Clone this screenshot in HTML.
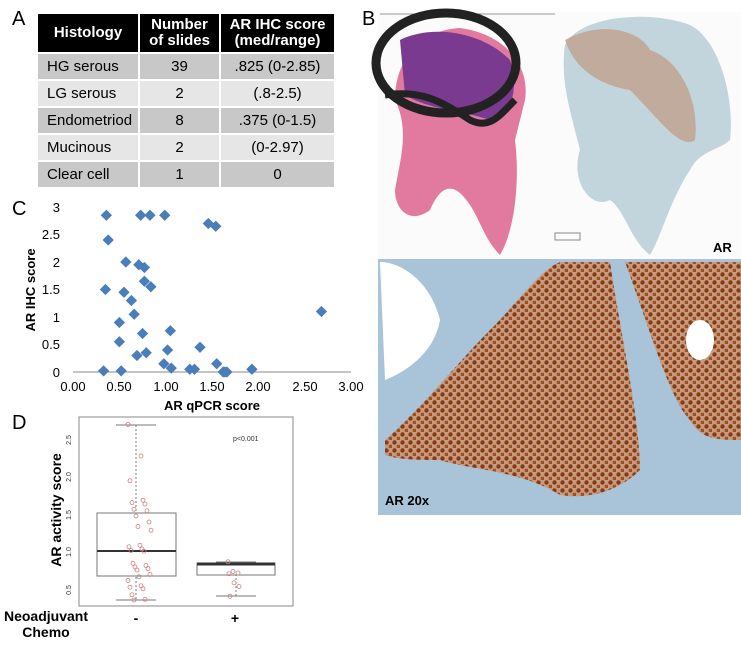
<!DOCTYPE html>
<html><head><meta charset="utf-8"><style>
body{margin:0;background:#fff;width:741px;height:647px;position:relative;overflow:hidden;font-family:"Liberation Sans",Arial,sans-serif}
.a{position:absolute}
table{position:absolute;left:36px;top:12px;border-collapse:collapse;font-size:15px}
td,th{border:2px solid #fff;text-align:center;padding:0}
th{background:#000;color:#fff;font-weight:bold;height:38px;line-height:16px}
td{height:25px}
tr.d td{background:#c8c8c8}tr.l td{background:#e6e6e6}
td:first-child{text-align:left;padding-left:9px}
</style></head><body>
<div class="a" style="left:12px;top:8px;font-size:20px">A</div>
<table>
<tr><th style="width:100px">Histology</th><th style="width:79px">Number<br>of slides</th><th style="width:113px">AR IHC score<br>(med/range)</th></tr>
<tr class="d"><td>HG serous</td><td>39</td><td>.825 (0-2.85)</td></tr>
<tr class="l"><td>LG serous</td><td>2</td><td>(.8-2.5)</td></tr>
<tr class="d"><td>Endometriod</td><td>8</td><td>.375 (0-1.5)</td></tr>
<tr class="l"><td>Mucinous</td><td>2</td><td>(0-2.97)</td></tr>
<tr class="d"><td>Clear cell</td><td>1</td><td>0</td></tr>
</table>
<div class="a" style="left:362px;top:8px;font-size:20px">B</div>
<div class="a" style="left:12px;top:198px;font-size:20px">C</div>
<div class="a" style="left:12px;top:412px;font-size:20px">D</div>

<svg class="a" style="left:0;top:0" width="741" height="647">
<defs>
<pattern id="cells" width="8" height="8" patternUnits="userSpaceOnUse">
<rect width="8" height="8" fill="#c49a80"/>
<circle cx="2.5" cy="2.5" r="2.2" fill="#8a3a12"/><circle cx="6.5" cy="6.5" r="1.9" fill="#a0501e"/>
</pattern>
</defs>
<g font-size="13" fill="#000">
<line x1="73" y1="372" x2="351" y2="372" stroke="#888"/>
<g text-anchor="end">
<text x="60" y="377">0</text><text x="60" y="349">0.5</text><text x="60" y="322">1</text><text x="60" y="294">1.5</text><text x="60" y="267">2</text><text x="60" y="239">2.5</text><text x="60" y="212">3</text></g>
<g text-anchor="middle">
<text x="73" y="391">0.00</text><text x="119" y="391">0.50</text><text x="166" y="391">1.00</text><text x="212" y="391">1.50</text><text x="258" y="391">2.00</text><text x="305" y="391">2.50</text><text x="351" y="391">3.00</text>
<text x="212" y="410" font-weight="bold">AR qPCR score</text></g>
<text transform="translate(35,290) rotate(-90)" text-anchor="middle" font-weight="bold">AR IHC score</text>
</g>
<g fill="#4a7ebb" id="pts"></g>
<rect x="79" y="417" width="214" height="189" fill="none" stroke="#888"/>
<g font-size="7" fill="#333">
<text transform="translate(71,590) rotate(-90)" text-anchor="middle">0.5</text>
<text transform="translate(71,552) rotate(-90)" text-anchor="middle">1.0</text>
<text transform="translate(71,515) rotate(-90)" text-anchor="middle">1.5</text>
<text transform="translate(71,477) rotate(-90)" text-anchor="middle">2.0</text>
<text transform="translate(71,440) rotate(-90)" text-anchor="middle">2.5</text>
<text x="233" y="441">p&lt;0.001</text></g>
<text transform="translate(61,510) rotate(-90)" text-anchor="middle" font-size="14" font-weight="bold">AR activity score</text>
<g stroke="#777" fill="none">
<line x1="136" y1="425" x2="136" y2="600" stroke-dasharray="2,2"/>
<line x1="116" y1="425" x2="156" y2="425"/><line x1="116" y1="600" x2="156" y2="600"/>
<rect x="97" y="513" width="79" height="63" fill="#fff"/>
<line x1="236" y1="562" x2="236" y2="596" stroke-dasharray="2,2"/>
<line x1="216" y1="562" x2="256" y2="562"/><line x1="216" y1="596" x2="256" y2="596"/>
<rect x="197" y="563" width="78" height="12" fill="#fff"/>
</g>
<line x1="97" y1="551" x2="176" y2="551" stroke="#333" stroke-width="2"/>
<line x1="197" y1="564" x2="275" y2="564" stroke="#333" stroke-width="3"/>
<g fill="none" stroke="#d08080" stroke-width="0.8" id="circ"></g>
<g font-size="14" font-weight="bold" text-anchor="middle">
<text x="46" y="621">Neoadjuvant</text><text x="46" y="637">Chemo</text>
<text x="136" y="623">-</text><text x="235" y="623">+</text></g>

<rect x="378" y="12" width="363" height="247" fill="#fbfbfb"/>
<line x1="380" y1="14" x2="555" y2="14" stroke="#999"/>
<path d="M395,100 C395,60 420,30 460,28 C510,35 530,70 525,100 L515,140 C520,180 515,230 500,255 C485,240 480,220 470,205 C460,190 445,175 430,210 C410,225 395,210 395,190 C400,160 410,130 395,100 Z" fill="#e27aa0"/>
<path d="M400,40 C430,25 480,30 510,60 C520,90 510,120 490,120 C460,110 430,110 405,95 Z" fill="#7a3a90"/>
<ellipse cx="446" cy="63" rx="70" ry="50" fill="none" stroke="#222" stroke-width="9"/>
<path d="M385,95 C420,90 440,100 470,120 C490,130 500,115 515,100" fill="none" stroke="#222" stroke-width="7"/>
<path d="M565,45 C580,15 650,10 690,25 C720,40 735,100 730,140 C720,150 700,150 690,170 C670,200 660,240 650,255 C630,240 625,210 610,200 C590,210 570,180 580,150 C570,110 560,80 565,45 Z" fill="#c2d4dc"/>
<path d="M565,40 C600,20 640,30 650,50 C680,60 700,100 695,140 C680,150 660,120 630,90 C600,85 575,70 565,40 Z" fill="#c0a08c" opacity="0.8"/>
<rect x="555" y="233" width="25" height="7" fill="none" stroke="#888"/>
<text x="713" y="252" font-size="13" font-weight="bold">AR</text>
<rect x="378" y="259" width="363" height="256" fill="#a9c4d8"/>
<path d="M385,440 C420,410 460,360 490,330 C520,300 540,270 560,262 L610,262 C620,330 640,420 640,470 C620,490 590,500 560,495 C520,470 470,470 440,460 C420,460 400,460 385,455 Z" fill="url(#cells)"/>
<path d="M625,262 L741,262 L741,440 C720,440 700,440 690,420 C670,400 650,330 625,262 Z" fill="url(#cells)"/>
<path d="M380,262 C400,262 430,280 440,320 C435,350 410,370 385,380 Z" fill="#fff"/>
<ellipse cx="700" cy="340" rx="14" ry="20" fill="#fff"/>
<text x="385" y="505" font-size="13" font-weight="bold" fill="#000">AR 20x</text>
</svg>
<script>
var d=[[0.36,2.85],[0.73,2.85],[0.83,2.85],[0.99,2.85],[1.46,2.7],[1.54,2.65],[0.38,2.4],[0.57,2.0],[0.71,1.95],[0.77,1.9],[0.35,1.5],[0.55,1.45],[0.77,1.65],[0.84,1.55],[0.63,1.3],[0.66,1.05],[2.68,1.1],[0.5,0.9],[1.05,0.75],[0.75,0.7],[0.5,0.55],[1.37,0.45],[1.02,0.4],[0.79,0.35],[0.69,0.3],[0.98,0.15],[1.55,0.15],[1.06,0.07],[0.33,0.02],[0.52,0.02],[1.26,0.05],[1.31,0.05],[1.62,0],[1.66,0],[1.93,0.05],[1.64,0]];
var s='';d.forEach(function(p){var x=73+92.7*p[0],y=372-55*p[1];s+='<rect x="'+(x-4)+'" y="'+(y-4)+'" width="8" height="8" transform="rotate(45 '+x+' '+y+')"/>';});
document.getElementById('pts').innerHTML=s;
var v=[2.68,2.26,1.93,1.67,1.64,1.62,1.55,1.53,1.46,1.38,1.32,1.27,1.07,1.05,1.02,1.0,0.99,0.83,0.8,0.78,0.76,0.74,0.68,0.65,0.6,0.53,0.51,0.49,0.41,0.35,0.34];
var c='';v.forEach(function(y,i){var x=128+((i*37)%24);c+='<circle cx="'+x+'" cy="'+(588-75*(y-0.5))+'" r="2"/>';});
[0.85,0.72,0.7,0.69,0.57,0.52,0.39].forEach(function(y,i){c+='<circle cx="'+(228+(i*5)%14)+'" cy="'+(588-75*(y-0.5))+'" r="2"/>';});
document.getElementById('circ').innerHTML=c;
</script>
</body></html>
